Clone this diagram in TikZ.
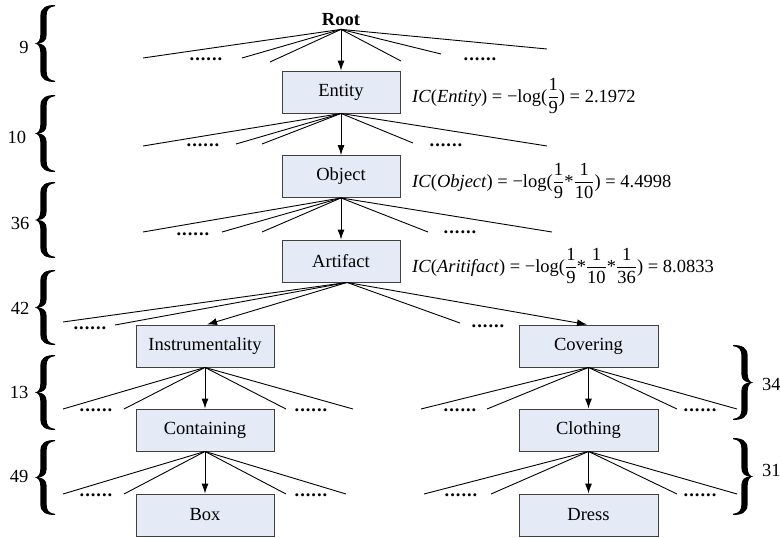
\documentclass[tikz,border=0pt]{standalone}
\usepackage{fontspec}
\setmainfont{Liberation Serif}
\usetikzlibrary{arrows.meta}
\definecolor{boxfill}{HTML}{E4EAF6}
\definecolor{boxline}{HTML}{404040}
\newcommand\myfs{\fontsize{18.5}{22}\selectfont}
\newcommand\sixdots{.\kern1pt.\kern1pt.\kern1pt.\kern1pt.\kern1pt.}
\newcommand\fr[2]{{\nulldelimiterspace=0pt\displaystyle\frac{\mbox{#1}}{\mbox{#2}}}}
\tikzset{
  cbox/.style={draw=boxline, fill=boxfill, line width=0.9pt, minimum height=42pt, inner sep=0pt, font=\myfs},
  fan/.style={line width=0.9pt},
  arr/.style={line width=0.9pt, -{Latex[length=10pt,width=7pt]}},
  dotsnode/.style={anchor=base, inner sep=0pt, font=\myfs\bfseries},
  num/.style={font=\myfs, inner sep=0pt},
  formula/.style={anchor=base west, inner sep=0pt, font=\myfs},
  lbrace/.pic={
    \fill (1,1) .. controls (0.55,1) and (0.27,0.93) .. (0.27,0.72)
      -- (0.27,0.25)
      .. controls (0.27,0.08) and (0.15,0.01) .. (0,0)
      .. controls (0.15,-0.01) and (0.27,-0.08) .. (0.27,-0.25)
      -- (0.27,-0.72)
      .. controls (0.27,-0.93) and (0.55,-1) .. (1,-1)
      -- (1,-0.97)
      .. controls (0.7,-0.95) and (0.58,-0.88) .. (0.58,-0.72)
      -- (0.58,-0.22)
      .. controls (0.58,-0.07) and (0.4,-0.01) .. (0.15,0)
      .. controls (0.4,0.01) and (0.58,0.07) .. (0.58,0.22)
      -- (0.58,0.72)
      .. controls (0.58,0.88) and (0.7,0.95) .. (1,0.97)
      -- cycle;
  }
}
\begin{document}
\begin{tikzpicture}[x=1pt,y=-1pt]
\useasboundingbox (0,0) rectangle (780,538);

% ---------- nodes ----------
\node[anchor=base, inner xsep=0pt, inner ysep=4pt, font=\myfs\bfseries] (Root) at (341,25) {Root};
\node[cbox, minimum width=118pt] (Entity)   at (341,92)  {Entity};
\node[cbox, minimum width=118pt] (Object)   at (341,176.5) {Object};
\node[cbox, minimum width=118pt] (Artifact) at (341,261) {Artifact};
\node[cbox, minimum width=138pt] (Instr)    at (205,346) {Instrumentality};
\node[cbox, minimum width=138pt] (Contain)  at (205,430) {Containing};
\node[cbox, minimum width=138pt] (Box)      at (205,515) {Box};
\node[cbox, minimum width=139pt] (Cover)    at (588.5,346) {Covering};
\node[cbox, minimum width=139pt] (Cloth)    at (588.5,430) {Clothing};
\node[cbox, minimum width=139pt] (Dress)    at (588.5,515) {Dress};

\coordinate (af) at ([xshift=6pt]Artifact.south);

% ---------- fans ----------
\foreach \nm/\px/\py in {r1/143/58, r2/242/58, r3/270/62, r4/401/61, r5/441/54, r6/547/49}
  {\coordinate (\nm) at (\px,\py); \draw[fan] (Root.south) -- (\nm);}
\foreach \nm/\px/\py in {e1/143/146, e2/236/144, e3/262/144, e4/413/143, e5/547/146}
  {\coordinate (\nm) at (\px,\py); \draw[fan] (Entity.south) -- (\nm);}
\foreach \nm/\px/\py in {o1/143/232, o2/222/232, o3/262/232, o4/428/232, o5/552/232}
  {\coordinate (\nm) at (\px,\py); \draw[fan] (Object.south) -- (\nm);}
\foreach \nm/\px/\py in {a1/63/322, a2/115/325, a3/460/323}
  {\coordinate (\nm) at (\px,\py); \draw[fan] (af) -- (\nm);}
\foreach \nm/\px/\py in {i1/63/409, i2/124/409, i3/286/409, i4/353/409}
  {\coordinate (\nm) at (\px,\py); \draw[fan] (Instr.south) -- (\nm);}
\foreach \nm/\px/\py in {c1/63/494, c2/124/494, c3/286/494, c4/346/494}
  {\coordinate (\nm) at (\px,\py); \draw[fan] (Contain.south) -- (\nm);}
\foreach \nm/\px/\py in {v1/421/409, v2/487/409, v3/677/409, v4/737/409}
  {\coordinate (\nm) at (\px,\py); \draw[fan] (Cover.south) -- (\nm);}
\foreach \nm/\px/\py in {l1/424/494, l2/491/494, l3/677/494, l4/737/494}
  {\coordinate (\nm) at (\px,\py); \draw[fan] (Cloth.south) -- (\nm);}

% ---------- arrows ----------
\draw[arr] (Root.south) -- (Entity.north);
\draw[arr] (Entity.south) -- (Object.north);
\draw[arr] (Object.south) -- (Artifact.north);
\draw[arr] (af) -- ([xshift=2pt]Instr.north);
\draw[arr] (af) -- ([xshift=-1.5pt]Cover.north);
\draw[arr] (Instr.south) -- (Contain.north);
\draw[arr] (Contain.south) -- (Box.north);
\draw[arr] (Cover.south) -- (Cloth.north);
\draw[arr] (Cloth.south) -- (Dress.north);

% ---------- dots ----------
\node[dotsnode] (dr1) at (206,60) {\sixdots};
\node[dotsnode] (dr2) at (480,60) {\sixdots};
\node[dotsnode] (de1) at (203,146) {\sixdots};
\node[dotsnode] (de2) at (446,146) {\sixdots};
\node[dotsnode] (do1) at (193,235) {\sixdots};
\node[dotsnode] (do2) at (460,233) {\sixdots};
\node[dotsnode] (da1) at (90,329) {\sixdots};
\node[dotsnode] (da2) at (488,327) {\sixdots};
\node[dotsnode] (di1) at (96,411) {\sixdots};
\node[dotsnode] (di2) at (311,411) {\sixdots};
\node[dotsnode] (dc1) at (96,496) {\sixdots};
\node[dotsnode] (dc2) at (311,496) {\sixdots};
\node[dotsnode] (dv1) at (460,411) {\sixdots};
\node[dotsnode] (dv2) at (700,411) {\sixdots};
\node[dotsnode] (dl1) at (461,496) {\sixdots};
\node[dotsnode] (dl2) at (700,496) {\sixdots};

% ---------- formulas ----------
\node[formula] (icE) at (412,102) {\textit{IC}(\textit{Entity}) = −log($\fr{1}{9}$) = 2.1972};
\node[formula] (icO) at (412,187) {\textit{IC}(\textit{Object}) = −log($\fr{1}{9}\mbox{*}\fr{1}{10}$) = 4.4998};
\node[formula] (icA) at (412,272) {\textit{IC}(\textit{Aritifact}) = −log($\fr{1}{9}\mbox{*}\fr{1}{10}\mbox{*}\fr{1}{36}$) = 8.0833};

% ---------- braces ----------
\pic[xscale=20, yscale=38.5] at (35,43.5) {lbrace};
\pic[xscale=20, yscale=38.5] at (35,133.5) {lbrace};
\pic[xscale=20, yscale=38] at (35,220) {lbrace};
\pic[xscale=20, yscale=37.5] at (35,307.5) {lbrace};
\pic[xscale=20, yscale=37.5] at (35,392.5) {lbrace};
\pic[xscale=20, yscale=37.5] at (35,477.5) {lbrace};
\pic[xscale=-20, yscale=37.5] at (753,382.5) {lbrace};
\pic[xscale=-20, yscale=38.5] at (753,476.5) {lbrace};

\node[num] (n9)  at (24,47)  {9};
\node[num] (n10) at (17,137) {10};
\node[num] (n36) at (20,223) {36};
\node[num] (n42) at (20,308) {42};
\node[num] (n13) at (19,392) {13};
\node[num] (n49) at (19,476) {49};
\node[num, anchor=west] (n34) at (762,384) {34};
\node[num, anchor=west] (n31) at (762,470) {31};
\end{tikzpicture}
\end{document}
